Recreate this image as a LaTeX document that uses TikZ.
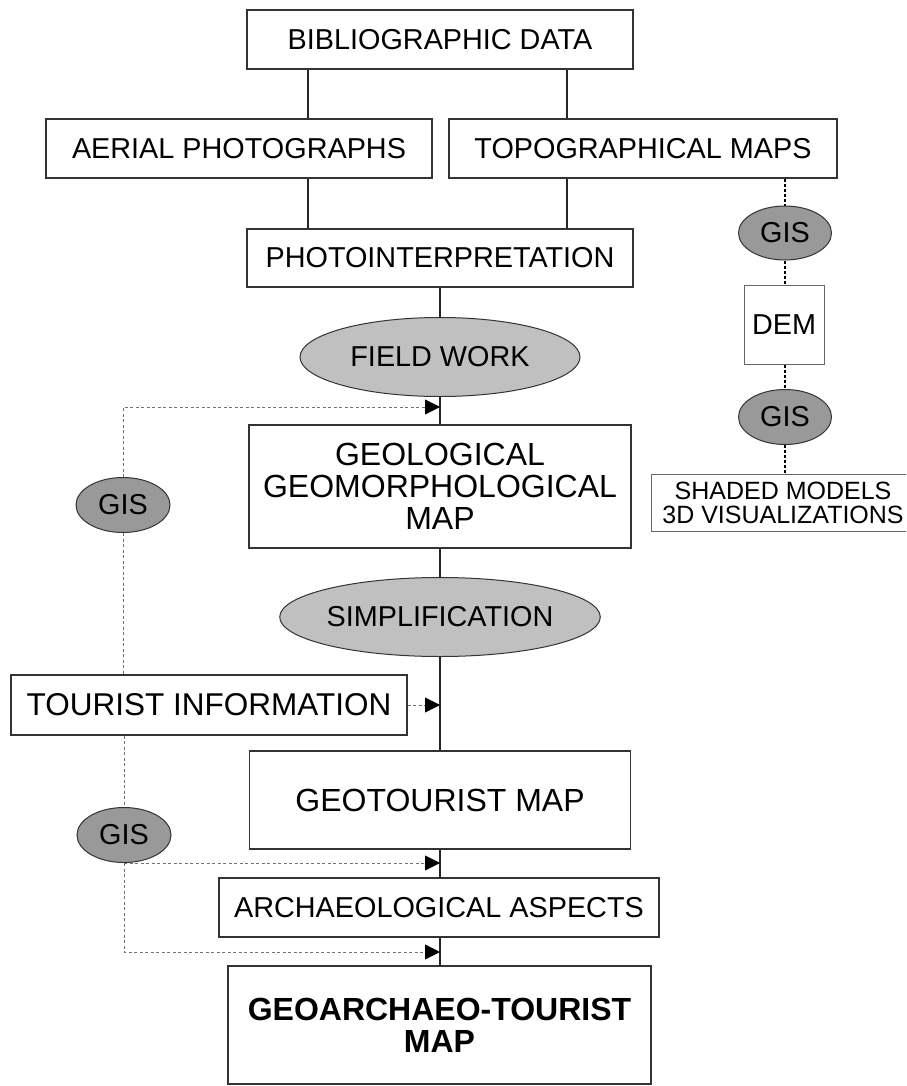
\documentclass[tikz,border=0pt]{standalone}
\usepackage{fontspec}
\setmainfont{Liberation Sans}
\usetikzlibrary{shapes.geometric,arrows.meta}
\definecolor{lightfill}{HTML}{C0C0C0}
\definecolor{darkfill}{HTML}{999999}
\definecolor{edge}{HTML}{333333}
\begin{document}
\begin{tikzpicture}[x=1pt,y=-1pt,
  box/.style={draw=edge,line width=1.3pt,rectangle,inner sep=0pt,align=center,font=\fontsize{28.8}{32}\selectfont},
  bigbox/.style={box,font=\fontsize{32}{32}\selectfont},
  oval/.style={draw=edge,line width=1pt,ellipse,inner sep=0pt,font=\fontsize{28.8}{32}\selectfont},
  lightoval/.style={oval,fill=lightfill},
  darkoval/.style={oval,fill=darkfill},
  link/.style={line width=1.3pt,black!85},
  gislink/.style={line width=1.3pt,black,dash pattern=on 3pt off 2pt},
  feed/.style={line width=0.8pt,black!55,dash pattern=on 3pt off 2.5pt},
  arrowtip/.style={-{Triangle[length=15pt,width=15pt,color=black]}}
]
\useasboundingbox (0,0) rectangle (906,1086);
\clip (0,0) rectangle (906,1086);
\fill[white] (0,0) rectangle (906,1086);

% main column
\node[box,minimum width=386pt,minimum height=59pt] (bib) at (440,39.5) {BIBLIOGRAPHIC DATA};
\node[box,minimum width=386pt,minimum height=59pt] (aer) at (239,148.5) {AERIAL PHOTOGRAPHS};
\node[box,minimum width=388pt,minimum height=59pt] (topo) at (643,148.5) {TOPOGRAPHICAL MAPS};
\node[box,minimum width=386pt,minimum height=58pt] (photo) at (440,258) {PHOTOINTERPRETATION};
\node[lightoval,minimum width=280pt,minimum height=79pt] (field) at (440,357) {FIELD WORK};
\node[bigbox,minimum width=382pt,minimum height=123pt] (geol) at (440,486.5) {GEOLOGICAL\\GEOMORPHOLOGICAL\\MAP};
\node[lightoval,minimum width=280pt,minimum height=79pt] (simp) at (440,617) {SIMPLIFICATION};
\node[box,minimum width=396pt,minimum height=60pt,font=\fontsize{31.5}{32}\selectfont] (tour) at (209,705) {TOURIST INFORMATION};
\node[bigbox,minimum width=381pt,minimum height=98pt] (geot) at (440,800) {GEOTOURIST MAP};
\node[box,minimum width=440pt,minimum height=59pt] (arch) at (439,907.5) {ARCHAEOLOGICAL ASPECTS};
\node[box,minimum width=423pt,minimum height=118pt,font=\fontsize{32}{32}\selectfont\bfseries] (geoa) at (439.5,1025) {GEOARCHAEO-TOURIST\\MAP};

% left GIS ellipses
\node[darkoval,minimum width=94pt,minimum height=55pt] (gisL) at (123,505) {GIS};
\node[darkoval,minimum width=94pt,minimum height=55pt] (gisB) at (124,835) {GIS};

% right column
\node[darkoval,minimum width=93pt,minimum height=54pt] (gis1) at (785,233) {GIS};
\node[box,minimum width=80pt,minimum height=79pt,line width=1pt,draw=black!60] (dem) at (784,324.5) {DEM};
\node[darkoval,minimum width=93pt,minimum height=55pt] (gis2) at (785,417) {GIS};
\node[box,minimum width=264pt,minimum height=57pt,line width=1pt,draw=black!60,font=\fontsize{25}{24}\selectfont] (shad) at (783,502.5) {SHADED MODELS\\3D VISUALIZATIONS};

% coordinates for branch lines
\coordinate (cl) at (308,0);
\coordinate (cr) at (567,0);
\coordinate (cg) at (785,0);

% solid links
\draw[link] (bib.south -| cl) -- (aer.north -| cl);
\draw[link] (bib.south -| cr) -- (topo.north -| cr);
\draw[link] (aer.south -| cl) -- (photo.north -| cl);
\draw[link] (topo.south -| cr) -- (photo.north -| cr);
\draw[link] (photo.south) -- (field.north);
\draw[link] (field.south) -- (geol.north);
\draw[link] (geol.south) -- (simp.north);
\draw[link] (simp.south) -- (geot.north);
\draw[link] (geot.south) -- (arch.north -| geot.south);
\draw[link] (arch.south -| geot.south) -- (geoa.north -| geot.south);

% right GIS chain
\draw[gislink] (topo.south -| cg) -- (gis1.north);
\draw[gislink] (gis1.south) -- (dem.north -| gis1.south);
\draw[gislink] (dem.south -| gis1.south) -- (gis2.north);
\draw[gislink] (gis2.south) -- (shad.north -| gis2.south);

% feedback dashed arrows
\coordinate (a1) at (440,407);
\coordinate (a3) at (440,952);
\draw[feed,arrowtip] (gisL.north) |- (a1);
\draw[feed] (gisL.south) -- (tour.north -| gisL.south);
\draw[feed,arrowtip] (tour.east) -- (tour.east -| simp.south);
\draw[feed] (tour.south -| gisB.north) -- (gisB.north);
\draw[feed,arrowtip] (gisB.south) -- (gisB.south -| geot.south);
\draw[feed,arrowtip] (gisB.south) |- (a3);
\end{tikzpicture}
\end{document}
